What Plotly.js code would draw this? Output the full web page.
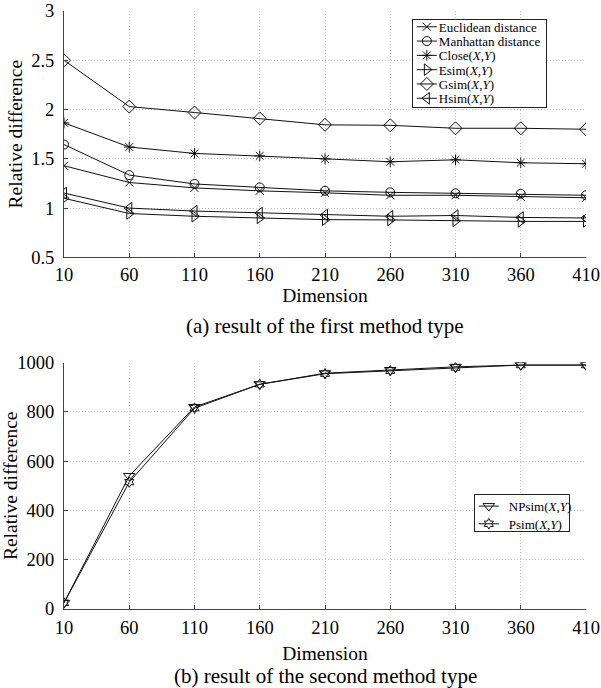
<!DOCTYPE html>
<html>
<head>
<meta charset="utf-8">
<script src="https://cdn.plot.ly/plotly-3.0.1.min.js"></script>
<style>
html,body{margin:0;padding:0;background:#fff;}
#chart{width:601px;height:688px;}
</style>
</head>
<body>
<div id="chart"></div>
<script>
// ---- data ----
var dims = [10, 60, 110, 160, 210, 260, 310, 360, 410];
var euclidean = [1.43, 1.26, 1.205, 1.175, 1.155, 1.13, 1.13, 1.115, 1.105];
var manhattan = [1.645, 1.335, 1.245, 1.21, 1.175, 1.16, 1.15, 1.145, 1.13];
var closeXY   = [1.865, 1.62, 1.555, 1.53, 1.50, 1.47, 1.49, 1.46, 1.45];
var esimXY    = [1.10, 0.945, 0.917, 0.90, 0.883, 0.88, 0.87, 0.865, 0.865];
var gsimXY    = [2.50, 2.03, 1.97, 1.91, 1.845, 1.84, 1.81, 1.81, 1.80];
var hsimXY    = [1.153, 1.0, 0.97, 0.95, 0.93, 0.917, 0.925, 0.905, 0.90];
var npsimXY   = [25, 540, 820, 912, 957, 970, 983, 990, 990];
var psimXY    = [25, 515, 815, 912, 955, 967, 980, 990, 990];

var topTicks = [0.5, 1, 1.5, 2, 2.5, 3];
var botTicks = [0, 200, 400, 600, 800, 1000];

var names1 = ['Euclidean distance', 'Manhattan distance', 'Close(<i>X</i>,<i>Y</i>)',
              'Esim(<i>X</i>,<i>Y</i>)', 'Gsim(<i>X</i>,<i>Y</i>)', 'Hsim(<i>X</i>,<i>Y</i>)'];
var names2 = ['NPsim(<i>X</i>,<i>Y</i>)', 'Psim(<i>X</i>,<i>Y</i>)'];

var ink = '#111';
function tr(y, name, sym, size, xa, ya, leg) {
  return {
    x: dims, y: y, name: name, type: 'scatter', mode: 'lines+markers',
    xaxis: xa, yaxis: ya, legend: leg,
    line: {color: ink, width: 1},
    marker: {symbol: sym, size: size, color: ink, line: {color: ink, width: 1}}
  };
}

var data = [
  tr(euclidean, names1[0], 'x-thin-open', 8, 'x', 'y', 'legend'),
  tr(manhattan, names1[1], 'circle-open', 9, 'x', 'y', 'legend'),
  tr(closeXY,   names1[2], 'asterisk-open', 9, 'x', 'y', 'legend'),
  tr(esimXY,    names1[3], 'triangle-right-open', 10, 'x', 'y', 'legend'),
  tr(gsimXY,    names1[4], 'diamond-open', 10, 'x', 'y', 'legend'),
  tr(hsimXY,    names1[5], 'triangle-left-open', 10, 'x', 'y', 'legend'),
  tr(npsimXY,   names2[0], 'triangle-down-open', 10, 'x2', 'y2', 'legend2'),
  tr(psimXY,    names2[1], 'hexagram-open', 8, 'x2', 'y2', 'legend2')
];

var FONT = "'Liberation Serif', 'Times New Roman', Times, serif";
var tickFont = {family: FONT, size: 18.5, color: '#000'};
var titleFont = {family: FONT, size: 19.5, color: '#000'};

function xax(anchor, standoff, labelGap) {
  return {
    anchor: anchor, range: [10, 410], tickvals: dims, ticktext: dims.map(String),
    showline: true, linecolor: '#444', linewidth: 1,
    ticks: 'inside', ticklen: 4, tickcolor: '#444',
    showgrid: true, gridcolor: '#c4c4c4', griddash: '1px,2px', gridwidth: 1,
    zeroline: false, tickfont: tickFont, ticklabelstandoff: labelGap,
    automargin: 'bottom',
    title: {text: 'Dimension', font: titleFont, standoff: standoff}
  };
}
function yax(anchor, domain, range, ticks, standoff) {
  return {
    anchor: anchor, domain: domain, range: range, tickvals: ticks, ticktext: ticks.map(String),
    showline: true, linecolor: '#444', linewidth: 1,
    ticks: 'inside', ticklen: 4, tickcolor: '#444',
    showgrid: true, gridcolor: '#c4c4c4', griddash: '1px,2px', gridwidth: 1,
    zeroline: false, tickfont: tickFont, ticklabelstandoff: 5,
    title: {text: 'Relative difference', font: titleFont, standoff: standoff}
  };
}

var layout = {
  width: 601, height: 688,
  margin: {l: 64, r: 15, t: 11, b: 79},
  paper_bgcolor: '#fff', plot_bgcolor: '#fff',
  font: {family: FONT, color: '#000'},
  showlegend: true,
  xaxis: xax('y', 4, 0),
  yaxis: yax('x', [0.588, 1], [0.5, 3], topTicks, 3),
  xaxis2: xax('y2', 9, 2),
  yaxis2: yax('x2', [0, 0.412], [0, 1000], botTicks, 4),
  legend: {
    x: 0.925, y: 0.987, xanchor: 'right', yanchor: 'top',
    bgcolor: '#fff', bordercolor: '#222', borderwidth: 1,
    font: {family: FONT, size: 13, color: '#000'},
    tracegroupgap: 0, itemwidth: 30
  },
  legend2: {
    x: 0.969, y: 0.193, xanchor: 'right', yanchor: 'top',
    bgcolor: '#fff', bordercolor: '#222', borderwidth: 1,
    font: {family: FONT, size: 13, color: '#000'},
    tracegroupgap: 0, itemwidth: 30
  },
  annotations: [
    {text: '(a) result of the first method type', xref: 'paper', yref: 'paper',
     x: 0.5, y: (609 - 326) / 598, xanchor: 'center', yanchor: 'middle', showarrow: false,
     font: {family: FONT, size: 21, color: '#000'}},
    {text: '(b) result of the second method type', xref: 'paper', yref: 'paper',
     x: 0.5, y: (609 - 676) / 598, xanchor: 'center', yanchor: 'middle', showarrow: false,
     font: {family: FONT, size: 21, color: '#000'}}
  ]
};

function parseT(t) {
  var m = /translate\(\s*([-\d.e]+)[ ,]+([-\d.e]+)\s*\)/.exec(t || '');
  return m ? [parseFloat(m[1]), parseFloat(m[2])] : [0, 0];
}

// tighten a Plotly legend: shorter symbol lines and row spacing like the reference
function compactLegend(id, rowH, topPad, bottomPad) {
  var leg = document.querySelector('g.' + id);
  if (!leg || leg.getAttribute('data-compact')) return;
  var traces = leg.querySelectorAll('g.traces');
  if (traces.length === 0) return;
  var bg = leg.querySelector('rect.bg');
  var oldW = parseFloat(bg.getAttribute('width'));
  var bgY = parseFloat(bg.getAttribute('y') || '0');
  var pos = [];
  traces.forEach(function (g) { pos.push(parseT(g.getAttribute('transform'))); });
  var shiftX = 6, textX = 32;
  traces.forEach(function (g, i) {
    var nx = pos[i][0] - shiftX;
    g.setAttribute('transform', 'translate(' + nx + ',' + (bgY + topPad + i * rowH) + ')');
    g.querySelectorAll('g.legendlines path').forEach(function (p) {
      p.setAttribute('d', 'M10,0h20');
    });
    var txt = g.querySelector('text.legendtext');
    if (txt) txt.setAttribute('x', textX);
  });
  var newW = oldW - (40 - textX) - shiftX;
  var newH = topPad + (traces.length - 1) * rowH + bottomPad;
  bg.setAttribute('width', newW);
  bg.setAttribute('height', newH);
  var lt = parseT(leg.getAttribute('transform'));
  leg.setAttribute('transform', 'translate(' + (lt[0] + oldW - newW) + ',' + lt[1] + ')');
  leg.setAttribute('data-compact', '1');
}

Plotly.newPlot('chart', data, layout, {displayModeBar: false, staticPlot: true}).then(function () {
  compactLegend('legend', 14.3, 7.5, 9.5);
  compactLegend('legend2', 17.7, 12, 8);
});
</script>
</body>
</html>
